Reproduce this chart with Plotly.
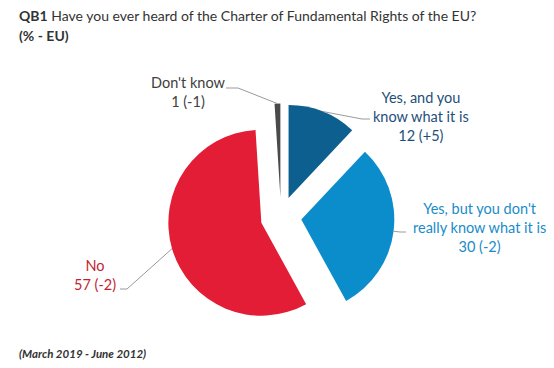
import math
import plotly.graph_objects as go

# ---- data ----
categories = ["Yes, and you know what it is", "Yes, but you don't really know what it is", "No", "Don't know"]
values = [12, 30, 57, 1]
changes = ["+5", "-2", "-2", "-1"]
label_texts = ["Yes, and you<br>know what it is", "Yes, but you don't<br>really know what it is", "No", "Don't know"]
slice_colors = ["#0d5f8f", "#0b8ccb", "#e31d35", "#4a4a4a"]
text_colors = ["#1e4f7a", "#1a8cc9", "#c21f30", "#404040"]
title_bold = "QB1"
title_rest = "Have you ever heard of the Charter of Fundamental Rights of the EU?"
subtitle = "(% - EU)"
footer = "(March 2019 - June 2012)"

W, H = 554, 368
CX, CY = 281, 217          # pie centre (px)
R = 93                     # slice radius (px)
PULL = 0.22
FONT = "Lato"

half = R * (1 + PULL)
dom_x = [(CX - half) / W, (CX + half) / W]
dom_y = [(H - CY - half) / H, (H - CY + half) / H]

fig = go.Figure(go.Pie(
    labels=categories, values=values, sort=False, direction="clockwise", rotation=0,
    pull=[PULL] * len(values), marker=dict(colors=slice_colors, line=dict(width=0)),
    textinfo="none", hoverinfo="skip", showlegend=False,
    domain=dict(x=dom_x, y=dom_y),
))

def px2paper(x, y):
    return x / W, 1 - y / H

# label placement (px): label centre x, centre y, elbow point, end point
label_pos = [
    dict(x=421, y=116, elbow=(362, 119), end=(370, 119)),
    dict(x=479, y=227, elbow=(400, 232), end=(406, 232)),
    dict(x=95, y=275, elbow=(127, 289), end=(120, 289)),
    dict(x=188, y=92, elbow=(238, 88), end=(226, 88)),
]

total = sum(values)
cum = 0
shapes = []
annotations = []
for i, v in enumerate(values):
    a0 = cum / total * 360
    cum += v
    a1 = cum / total * 360
    mid = math.radians((a0 + a1) / 2)
    d = R * PULL
    ax = CX + d * math.sin(mid)
    ay = CY - d * math.cos(mid)
    px = ax + R * math.sin(mid)
    py = ay - R * math.cos(mid)
    lp = label_pos[i]
    pts = [(px, py), lp["elbow"], lp["end"]]
    for (x0, y0), (x1, y1) in zip(pts[:-1], pts[1:]):
        X0, Y0 = px2paper(x0, y0)
        X1, Y1 = px2paper(x1, y1)
        shapes.append(dict(type="line", xref="paper", yref="paper", x0=X0, y0=Y0, x1=X1, y1=Y1,
                           line=dict(color="#9a9a9a", width=1)))
    lx, ly = px2paper(lp["x"], lp["y"])
    annotations.append(dict(
        x=lx, y=ly, xref="paper", yref="paper", showarrow=False, align="center",
        xanchor="center", yanchor="middle",
        text=f"{label_texts[i]}<br>{v} ({changes[i]})",
        font=dict(size=14.5, color=text_colors[i], family=FONT),
    ))

annotations.append(dict(x=17 / W, y=1 - 15 / H, xref="paper", yref="paper", showarrow=False,
                        xanchor="left", yanchor="middle",
                        text=f"<b>{title_bold}</b> {title_rest}",
                        font=dict(size=14, color="#333333", family=FONT)))
annotations.append(dict(x=17 / W, y=1 - 35 / H, xref="paper", yref="paper", showarrow=False,
                        xanchor="left", yanchor="middle",
                        text=f"<b>{subtitle}</b>",
                        font=dict(size=14, color="#333333", family=FONT)))
annotations.append(dict(x=17 / W, y=1 - 353 / H, xref="paper", yref="paper", showarrow=False,
                        xanchor="left", yanchor="middle",
                        text=f"<b><i>{footer}</i></b>",
                        font=dict(size=11.5, color="#333333", family=FONT)))

fig.update_layout(
    width=W, height=H, margin=dict(l=0, r=0, t=0, b=0),
    paper_bgcolor="white", plot_bgcolor="white",
    shapes=shapes, annotations=annotations,
)
fig.write_html("out.html", config={"displayModeBar": False},
               post_script="document.body.style.margin='0px';")
